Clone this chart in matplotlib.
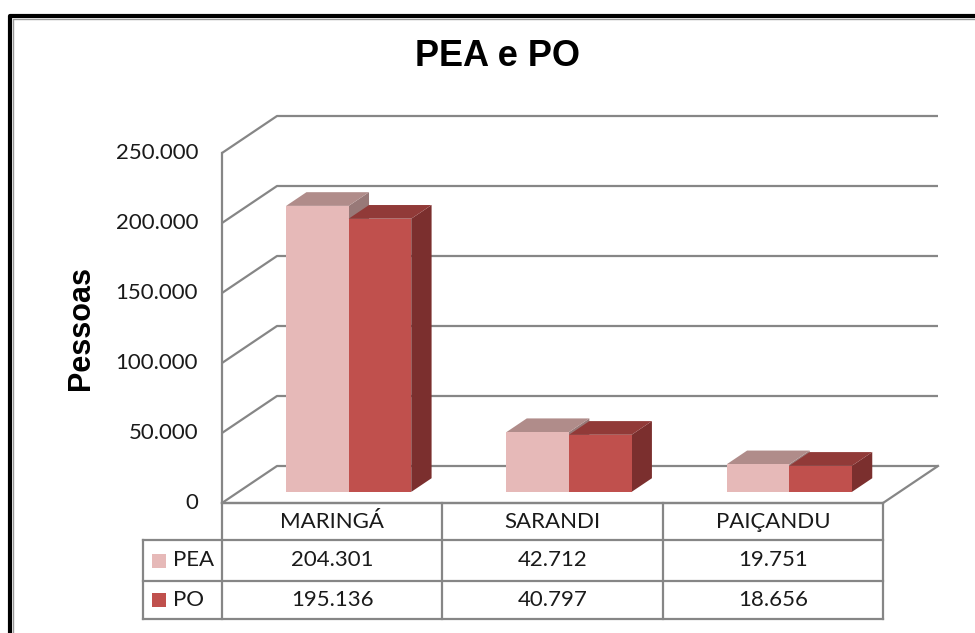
"""
PEA e PO - gráfico de colunas 3D com tabela de dados
"""
import numpy as np
import matplotlib.pyplot as plt
from matplotlib.patches import Polygon, Rectangle

plt.rcParams['font.family'] = ['Lato', 'DejaVu Sans']

# dados
cidades = ['MARINGÁ', 'SARANDI', 'PAIÇANDU']
series = ['PEA', 'PO']
pea = [204301, 42712, 19751]
po = [195136, 40797, 18656]
valores = [pea, po]
ticks_y = [0, 50000, 100000, 150000, 200000, 250000]

# cores (estilo Excel)
cor_frente = ['#E6B9B8', '#C0504D']
cor_topo = ['#B08C8A', '#913A38']
cor_lado = ['#987978', '#7B2F2E']
cor_grade = '#868686'

W, H = 975, 633
fig = plt.figure(figsize=(W / 100, H / 100), dpi=100)
ax = fig.add_axes([0, 0, 1, 1])
ax.axis('off')

# plano frontal: x -0.5..2.5 entre os pixels 222 e 883, y 0..250000 entre 503 e 153
sx = 3 / (883 - 222)
sy = 250000 / (503 - 153)
ax.set_xlim(-0.5 - 222 * sx, -0.5 + (W - 222) * sx)
ax.set_ylim(-(H - 503) * sy, 250000 + 153 * sy)

def px_x(px):
    return -0.5 + (px - 222) * sx

def px_y(py):
    return (503 - py) * sy

# profundidade
DX, DY = 55 * sx, 37 * sy

def proj(x, v, f):
    return (x + f * DX, v + f * DY)

# paredes e grade
x_ini, x_fim = -0.5, len(cidades) - 0.5
for t in ticks_y:
    pts = [proj(x_ini, t, 0), proj(x_ini, t, 1), proj(x_fim, t, 1)]
    ax.plot(*zip(*pts), color=cor_grade, lw=1.6, solid_capstyle='butt', zorder=1)
ax.plot([x_ini, x_ini], [0, ticks_y[-1]], color=cor_grade, lw=1.6, zorder=1)
piso = [proj(x_ini, 0, 0), proj(x_fim, 0, 0), proj(x_fim, 0, 1)]
ax.plot(*zip(*piso), color=cor_grade, lw=1.6, zorder=1)

# rótulos do eixo y
for t in ticks_y:
    ax.text(px_x(198), t, f'{t:,}'.replace(',', '.'), ha='right', va='center',
            fontsize=16, color='#1a1a1a')

# barras
w = 0.284
f0, f1 = 0.30, 0.67
z = 3
for i in range(len(cidades)):
    for s, vals in enumerate(valores):
        v = vals[i]
        x0 = i - w + s * w
        x1 = x0 + w
        lado = [proj(x1, 0, f0), proj(x1, 0, f1), proj(x1, v, f1), proj(x1, v, f0)]
        topo = [proj(x0, v, f0), proj(x1, v, f0), proj(x1, v, f1), proj(x0, v, f1)]
        frente = [proj(x0, 0, f0), proj(x1, 0, f0), proj(x1, v, f0), proj(x0, v, f0)]
        ax.add_patch(Polygon(lado, closed=True, fc=cor_lado[s], ec='none', zorder=z))
        ax.add_patch(Polygon(topo, closed=True, fc=cor_topo[s], ec='none', zorder=z))
        ax.add_patch(Polygon(frente, closed=True, fc=cor_frente[s], ec='none', zorder=z + 0.5))
        z += 1

# tabela de dados
linhas_y = [px_y(503), px_y(540), px_y(581), px_y(619)]
x_leg = px_x(143)
kw = dict(color=cor_grade, lw=1.6, zorder=2)
for k, yy in enumerate(linhas_y):
    xa = x_ini if k == 0 else x_leg
    ax.plot([xa, x_fim], [yy, yy], **kw)
for xx in np.arange(x_ini, x_fim + 0.01, 1.0):
    ax.plot([xx, xx], [linhas_y[0], linhas_y[-1]], **kw)
ax.plot([x_leg, x_leg], [linhas_y[1], linhas_y[-1]], **kw)

for i, c in enumerate(cidades):
    ax.text(i, (linhas_y[0] + linhas_y[1]) / 2, c, ha='center', va='center',
            fontsize=16, color='#1a1a1a')
    for s, vals in enumerate(valores):
        ym = (linhas_y[s + 1] + linhas_y[s + 2]) / 2
        ax.text(i, ym, f'{vals[i]:,}'.replace(',', '.'), ha='center', va='center',
                fontsize=16, color='#1a1a1a')

for s, nome in enumerate(series):
    ym = (linhas_y[s + 1] + linhas_y[s + 2]) / 2
    ax.add_patch(Rectangle((px_x(152), ym - 7 * sy), 14 * sx, 14 * sy,
                           fc=cor_frente[s], ec='none', zorder=3))
    ax.text(px_x(173), ym, nome, ha='left', va='center', fontsize=16, color='#1a1a1a')

# título e eixo
ax.text(497 / W, 1 - 56 / H, 'PEA e PO', transform=ax.transAxes, ha='center',
        va='center', fontsize=26, fontweight='bold', family='Liberation Sans')
ax.text(81 / W, 1 - 328 / H, 'Pessoas', transform=ax.transAxes, ha='center',
        va='center', rotation=90, fontsize=22, fontweight='bold', family='Liberation Sans')

# moldura
ax.plot([10 / W, 10 / W, 1.01], [-0.01, 1 - 16 / H, 1 - 16 / H], transform=ax.transAxes,
        color='black', lw=3, clip_on=False)
ax.plot([13 / W, 13 / W, 1.01], [-0.01, 1 - 19 / H, 1 - 19 / H], transform=ax.transAxes,
        color='#999999', lw=1, clip_on=False)

fig.savefig('out.png', dpi=100)
plt.close(fig)
